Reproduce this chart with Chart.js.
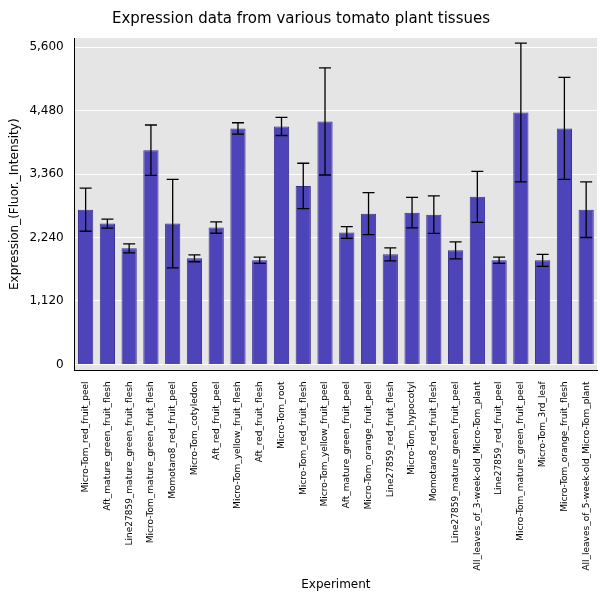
<!DOCTYPE html>
<html>
<head>
<meta charset="utf-8">
<script src="https://cdn.jsdelivr.net/npm/chart.js@4"></script>
<style>
  html, body { margin: 0; padding: 0; background: #fff; }
  #wrap { width: 600px; height: 600px; }
</style>
</head>
<body>
<div id="wrap"><canvas id="chart" width="600" height="600"></canvas></div>
<script>
const experiments = [
  "Micro-Tom_red_fruit_peel", "Aft_mature_green_fruit_flesh", "Line27859_mature_green_fruit_flesh",
  "Micro-Tom_mature_green_fruit_flesh", "Momotaro8_red_fruit_peel", "Micro-Tom_cotyledon",
  "Aft_red_fruit_peel", "Micro-Tom_yellow_fruit_flesh", "Aft_red_fruit_flesh", "Micro-Tom_root",
  "Micro-Tom_red_fruit_flesh", "Micro-Tom_yellow_fruit_peel", "Aft_mature_green_fruit_peel",
  "Micro-Tom_orange_fruit_peel", "Line27859_red_fruit_flesh", "Micro-Tom_hypocotyl",
  "Momotaro8_red_fruit_flesh", "Line27859_mature_green_fruit_peel", "All_leaves_of_3-week-old_Micro-Tom_plant",
  "Line27859_red_fruit_peel", "Micro-Tom_mature_green_fruit_peel", "Micro-Tom_3rd_leaf",
  "Micro-Tom_orange_fruit_flesh", "All_leaves_of_5-week-old_Micro-Tom_plant"
];
const expression = [2730, 2485, 2048, 3780, 2485, 1872, 2415, 4165, 1837, 4200, 3150, 4288,
  2328, 2660, 1943, 2678, 2643, 2013, 2958, 1837, 4445, 1837, 4165, 2730];
const errors = [380, 80, 80, 445, 780, 60, 100, 100, 55, 160, 400, 945,
  105, 370, 115, 270, 330, 150, 450, 55, 1225, 105, 900, 490];
const yTicks = [0, 1120, 2240, 3360, 4480, 5600];

// 误差线插件
const errorBars = {
  id: "errorBars",
  afterDatasetsDraw(chart) {
    const ctx = chart.ctx;
    const meta = chart.getDatasetMeta(0);
    const y = chart.scales.y;
    ctx.save();
    ctx.strokeStyle = "#000";
    ctx.lineWidth = 1.3;
    meta.data.forEach((bar, i) => {
      const top = y.getPixelForValue(expression[i] + errors[i]);
      const bot = y.getPixelForValue(expression[i] - errors[i]);
      ctx.beginPath();
      ctx.moveTo(bar.x, top); ctx.lineTo(bar.x, bot);
      ctx.moveTo(bar.x - 6, top); ctx.lineTo(bar.x + 6, top);
      ctx.moveTo(bar.x - 6, bot); ctx.lineTo(bar.x + 6, bot);
      ctx.stroke();
    });
    ctx.restore();
  }
};

const plotBg = {
  id: "plotBg",
  beforeDraw(chart) {
    const a = chart.chartArea;
    chart.ctx.save();
    chart.ctx.fillStyle = "#e5e5e5";
    chart.ctx.fillRect(a.left, a.top, a.right - a.left, a.bottom - a.top);
    chart.ctx.restore();
  }
};

new Chart(document.getElementById("chart"), {
  type: "bar",
  data: {
    labels: experiments,
    datasets: [{
      data: expression,
      backgroundColor: "#4c44b8",
      borderColor: "#3a3290",
      borderWidth: 1,
      categoryPercentage: 1,
      barPercentage: 0.7
    }]
  },
  options: {
    responsive: false,
    animation: false,
    layout: { padding: { left: 4, right: 2, top: 0, bottom: 4 } },
    plugins: {
      legend: { display: false },
      tooltip: { enabled: false },
      title: {
        display: true,
        text: "Expression data from various tomato plant tissues",
        color: "#000",
        font: { family: "DejaVu Sans", size: 15, weight: "normal" },
        padding: { top: 10, bottom: 10 }
      }
    },
    scales: {
      x: {
        grid: { display: false },
        border: { color: "#000" },
        ticks: {
          autoSkip: false, maxRotation: 90, minRotation: 90, color: "#000",
          font: { family: "DejaVu Sans", size: 9 }
        },
        title: { display: true, text: "Experiment", color: "#000", font: { family: "DejaVu Sans", size: 12 } }
      },
      y: {
        min: -105, max: 5760,
        afterBuildTicks(axis) { axis.ticks = yTicks.map(v => ({ value: v })); },
        grid: { color: "#ffffff", lineWidth: 1 },
        border: { color: "#000" },
        ticks: { color: "#000", font: { family: "DejaVu Sans", size: 12 } },
        title: { display: true, text: "Expression_(Fluor._Intensity)", color: "#000", font: { family: "DejaVu Sans", size: 12 } }
      }
    }
  },
  plugins: [plotBg, errorBars]
});
</script>
</body>
</html>
